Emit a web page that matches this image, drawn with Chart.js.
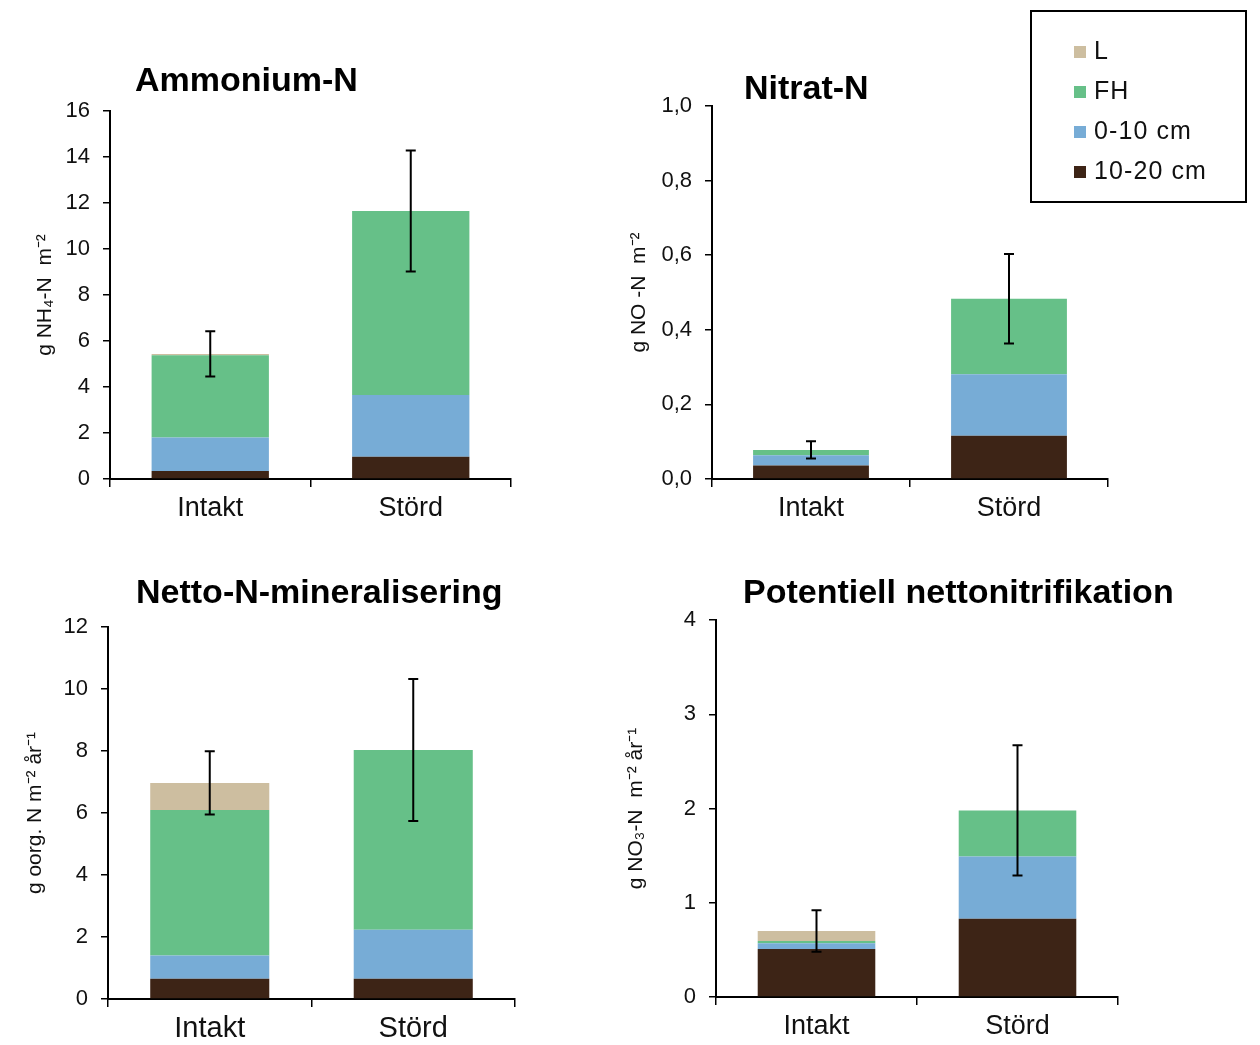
<!DOCTYPE html>
<html>
<head>
<meta charset="utf-8">
<script src="https://cdn.jsdelivr.net/npm/chart.js@4.4.0/dist/chart.umd.min.js"></script>
<style>
  body { margin: 0; background: #fff; font-family: "Liberation Sans", Arial, sans-serif; }
  #page { position: relative; width: 1260px; height: 1045px; overflow: hidden; }
  .panel { position: absolute; }
  .titel { position: absolute; font-weight: bold; font-size: 34px; line-height: 38px; color: #000; white-space: nowrap; }
  #legend { position: absolute; left: 1030px; top: 10px; width: 213px; height: 189px; border: 2px solid #000; }
  .item { position: absolute; left: 42px; font-size: 25px; line-height: 28px; letter-spacing: 1.1px; color: #111; }
  .item span { display: inline-block; width: 12px; height: 12px; margin-right: 8px; vertical-align: 1px; }
</style>
</head>
<body>
<div id="page">
  <div class="panel" id="p1"><canvas id="c1"></canvas></div>
  <div class="panel" id="p2"><canvas id="c2"></canvas></div>
  <div class="panel" id="p3"><canvas id="c3"></canvas></div>
  <div class="panel" id="p4"><canvas id="c4"></canvas></div>

  <div class="titel" style="left:135px; top:60px">Ammonium-N</div>
  <div class="titel" style="left:744px; top:68px">Nitrat-N</div>
  <div class="titel" style="left:136px; top:572px">Netto-N-mineralisering</div>
  <div class="titel" style="left:743px; top:572px">Potentiell nettonitrifikation</div>

  <div id="legend"></div>
</div>

<script>
// --- DATOS ---
const kategorier = ["Intakt", "Störd"];
const skikt = ["L", "FH", "0-10 cm", "10-20 cm"];
const farger = ["#cdbea0", "#66c088", "#77acd6", "#3d2416"];

// Ammonium-N (g NH4-N m-2)
const amm_L = [0.06, 0];
const amm_FH = [3.58, 8.0];
const amm_0_10 = [1.45, 2.68];
const amm_10_20 = [0.35, 0.97];
const amm_fel = [0.98, 2.63];
const amm_ticks = [0, 2, 4, 6, 8, 10, 12, 14, 16];

// Nitrat-N (g NO3-N m-2)
const nit_L = [0, 0];
const nit_FH = [0.014, 0.202];
const nit_0_10 = [0.028, 0.165];
const nit_10_20 = [0.036, 0.116];
const nit_fel = [0.023, 0.12];
const nit_ticks = [0, 0.2, 0.4, 0.6, 0.8, 1.0];

// Netto-N-mineralisering (g org. N m-2 år-1)
const min_L = [0.87, 0];
const min_FH = [4.7, 5.8];
const min_0_10 = [0.75, 1.58];
const min_10_20 = [0.65, 0.65];
const min_fel = [1.02, 2.29];
const min_ticks = [0, 2, 4, 6, 8, 10, 12];

// Potentiell nettonitrifikation (g NO3-N m-2 år-1)
const pot_L = [0.106, 0];
const pot_FH = [0.024, 0.49];
const pot_0_10 = [0.06, 0.66];
const pot_10_20 = [0.51, 0.83];
const pot_fel = [0.22, 0.69];
const pot_ticks = [0, 1, 2, 3, 4];

// --- LEGEND ---
const legend = document.getElementById("legend");
skikt.forEach((namn, i) => {
  const rad = document.createElement("div");
  rad.className = "item";
  rad.style.top = (24 + i * 40) + "px";
  rad.innerHTML = `<span style="background:${farger[i]}"></span>${namn}`;
  legend.appendChild(rad);
});

// --- FELSTAPLAR ---
const felstaplar = {
  id: "felstaplar",
  afterDatasetsDraw(chart) {
    const fel = chart.options.plugins.felstaplar.fel;
    const y = chart.scales.y;
    const ctx = chart.ctx;
    const meta = chart.getDatasetMeta(0);
    ctx.save();
    ctx.strokeStyle = "#000";
    ctx.lineWidth = 2;
    fel.forEach((e, i) => {
      let summa = 0;
      chart.data.datasets.forEach(ds => { summa += ds.data[i]; });
      const x = meta.data[i].x;
      const yTop = y.getPixelForValue(summa + e);
      const yBot = y.getPixelForValue(summa - e);
      ctx.beginPath();
      ctx.moveTo(x, yTop); ctx.lineTo(x, yBot);
      ctx.moveTo(x - 5, yTop); ctx.lineTo(x + 5, yTop);
      ctx.moveTo(x - 5, yBot); ctx.lineTo(x + 5, yBot);
      ctx.stroke();
    });
    ctx.restore();
  }
};

// --- DIAGRAM ---
function ritaPanel(id, canvasId, serier, fel, ticks, ytitel, yfmt, ruta, xFont) {
  // ruta: diagramyta på sidan + var y-titelns mitt ligger
  const yw = ruta.l - (ruta.titelX - 12);
  const pad = 30, xh = 62;
  const div = document.getElementById(id);
  div.style.left = (ruta.l - yw) + "px";
  div.style.top = (ruta.t - pad) + "px";
  div.style.width = (ruta.r - ruta.l + yw + 15) + "px";
  div.style.height = (ruta.b - ruta.t + pad + xh) + "px";

  // staplas nerifrån: 10-20, 0-10, FH, L
  const ordning = [3, 2, 1, 0];
  const datasets = ordning.map(k => ({
    label: skikt[k],
    data: serier[k],
    backgroundColor: farger[k],
    borderWidth: 0,
    barPercentage: 1,
    categoryPercentage: 0.585
  }));

  new Chart(document.getElementById(canvasId), {
    type: "bar",
    data: { labels: kategorier, datasets: datasets },
    plugins: [felstaplar],
    options: {
      responsive: true,
      maintainAspectRatio: false,
      animation: false,
      layout: { padding: { top: pad, right: 15, left: 0, bottom: 0 } },
      plugins: {
        legend: { display: false },
        tooltip: { enabled: false },
        felstaplar: { fel: fel }
      },
      scales: {
        x: {
          stacked: true,
          afterFit(s) { s.height = xh; },
          grid: { offset: true, drawOnChartArea: false, drawTicks: true, tickLength: 8, color: "#000", lineWidth: 1.5 },
          border: { color: "#000", width: 2 },
          ticks: { color: "#111", padding: 5, font: { family: "'Liberation Sans', Arial", size: xFont } }
        },
        y: {
          stacked: true,
          min: ticks[0],
          max: ticks[ticks.length - 1],
          afterFit(s) { s.width = yw; },
          afterBuildTicks(s) { s.ticks = ticks.map(v => ({ value: v })); },
          grid: { drawOnChartArea: false, drawTicks: true, tickLength: 7, color: "#000", lineWidth: 1.5 },
          border: { color: "#000", width: 2 },
          ticks: {
            color: "#111",
            padding: 13,
            font: { family: "'Liberation Sans', Arial", size: 22 },
            callback: yfmt
          },
          title: {
            display: true,
            text: ytitel,
            color: "#111",
            padding: 0,
            font: { family: "'Liberation Sans', Arial", size: 21 }
          }
        }
      }
    }
  });
}

const heltal = v => String(v);
const komma = v => v.toFixed(1).replace(".", ",");

ritaPanel("p1", "c1", [amm_L, amm_FH, amm_0_10, amm_10_20], amm_fel, amm_ticks,
  "g NH₄-N  m⁻²", heltal, { l: 110, t: 111, r: 511, b: 479, titelX: 45 }, 27);
ritaPanel("p2", "c2", [nit_L, nit_FH, nit_0_10, nit_10_20], nit_fel, nit_ticks,
  "g NO -N  m⁻²", komma, { l: 712, t: 106, r: 1108, b: 479, titelX: 639 }, 27);
ritaPanel("p3", "c3", [min_L, min_FH, min_0_10, min_10_20], min_fel, min_ticks,
  "g oorg. N m⁻² år⁻¹", heltal, { l: 108, t: 627, r: 515, b: 999, titelX: 35 }, 29);
ritaPanel("p4", "c4", [pot_L, pot_FH, pot_0_10, pot_10_20], pot_fel, pot_ticks,
  "g NO₃-N  m⁻² år⁻¹", heltal, { l: 716, t: 620, r: 1118, b: 997, titelX: 636 }, 27);
</script>
</body>
</html>
